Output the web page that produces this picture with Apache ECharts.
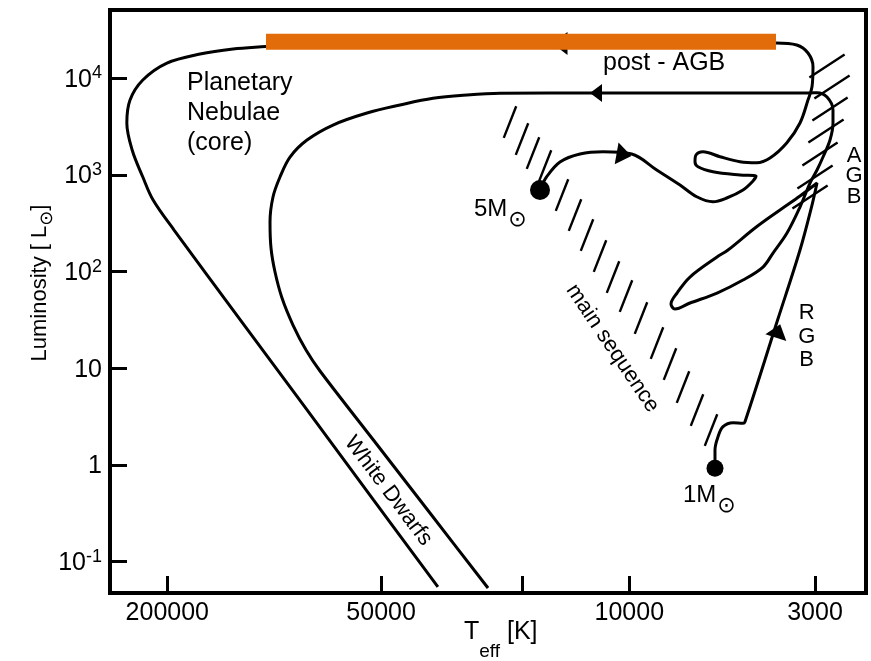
<!DOCTYPE html>
<html>
<head>
<meta charset="utf-8">
<script src="https://cdn.jsdelivr.net/npm/echarts@6/dist/echarts.min.js"></script>
<style>html,body{margin:0;padding:0;background:#fff}#chart{width:871px;height:661px}</style>
</head>
<body>
<div id="chart"></div>
<script>
// ---- axis ranges and ticks (Teff in K, L in solar units) ----
const teffMin = 2155, teffMax = 290000;
const lumMin = 0.0475, lumMax = 50900;
const xTickTeff = [200000, 50000, 20000, 10000, 3000];
const xTickLabels = ['200000', '50000', '', '10000', '3000'];
const yTickLum = [0.1, 1, 10, 100, 1000, 10000];
const yTickBase = ['10', '1', '10', '10', '10', '10'];
const yTickExp = ['-1', '', '', '2', '3', '4'];

// ---- evolutionary tracks: log10 Teff, log10 L ----
const track5LogT = [4.2515,4.2326,4.1952,4.1388,4.0741,3.9932,3.9228,3.8572,3.8102,3.7643,3.7257,3.6798,3.6516,3.6432,3.6883,3.7643,3.8065,3.8150,3.8122,3.7925,3.7446,3.6883,3.6412,3.6038,3.5568,3.5193,3.4968,3.4855,3.4827,3.4968,3.5286,3.587,4.195,4.927,5.023,5.116,5.209,5.302,5.370,5.406,5.415,5.400,5.370,5.341,5.282,5.095,4.907,4.720,4.539];
const track5LogL = [2.8448,2.9823,3.1344,3.2171,3.2409,3.2171,3.0516,2.8965,2.7755,2.7237,2.7620,2.8448,2.9378,2.9896,2.9999,3.0340,3.0858,3.1375,3.2068,3.2409,3.1892,3.1375,3.1271,3.1757,3.3309,3.5377,3.7756,3.9132,4.1201,4.2618,4.3445,4.365,4.365,4.355,4.329,4.303,4.251,4.158,3.983,3.776,3.538,3.259,2.979,2.741,2.431,1.500,0.569,-0.362,-1.261];

const track1LogT = [3.7587,3.7587,3.7502,3.7361,3.7080,3.6798,3.6742,3.5824,3.5193,3.4855,3.4714,3.5193,3.5756,3.6460,3.7221,3.7530,3.8291,3.8657,3.8826,3.8713,3.8291,3.7530,3.6798,3.6235,3.5953,3.5559,3.5193,3.4911,3.4714,3.4545,3.4348,3.4264,3.4264,3.4433,3.4714,3.4911,3.8009,4.0825,4.3641,4.4571,4.5528,4.6457,4.7387,4.8344,4.9076,4.9555,4.9837,5.0034,5.0118,5.0090,4.9977,4.9780,4.9471,4.9104,4.8710,4.7206,4.5570,4.3979];
const track1LogL = [-0.0337,0.1556,0.2931,0.3966,0.4379,0.4317,0.4483,1.5002,2.2242,2.6896,2.9172,2.7827,2.6379,2.4517,2.2242,2.1518,1.9449,1.7794,1.6657,1.6139,1.6760,1.7794,1.9139,2.0483,2.1932,2.4000,2.6689,2.9172,3.0516,3.1861,3.3619,3.5377,3.6722,3.8067,3.8511,3.8480,3.8480,3.8480,3.8449,3.8273,3.7932,3.7239,3.6412,3.5171,3.3619,3.1861,2.9792,2.7724,2.5138,2.2449,1.9966,1.7277,1.4485,1.1899,0.9727,0.2590,-0.5167,-1.2718];

// post-AGB band (highlighted)
const bandLogT = [5.0231, 3.5869];
const bandLogL = [4.3786, 4.3786];

// main-sequence hatch positions
const msHatchLogT = [4.3360,4.3022,4.2712,4.2374,4.1895,4.1529,4.1191,4.0825,4.0459,4.0093,3.9671,3.9220,3.8854,3.8488,3.8093,3.7699];
const msHatchLogL = [3.5481,3.3723,3.2275,3.0930,2.7930,2.5862,2.3793,2.1621,1.9449,1.7484,1.5209,1.2623,1.0452,0.8072,0.5693,0.3624];
// AGB hatch positions
const agbHatchLogT = [3.4433,3.4292,3.4348,3.4461,3.4630,3.4770,3.4911];
const agbHatchLogL = [4.1273,3.9101,3.6825,3.4550,3.2171,2.9792,2.7724];

// direction arrows: under band, post-AGB, 5 Msun track, RGB
const arrowLogT = [4.1952, 4.0938, 4.0149, 3.5812];
const arrowLogL = [4.3600, 3.8480, 3.2102, 1.3864];

// ZAMS starting points (5 Msun, 1 Msun)
const starLogT = [4.2515, 3.7587];
const starLogL = [2.8448, -0.0337];

// ---------------------------------------------------------------
const FONT = '"Liberation Sans", Arial, Helvetica, sans-serif';
const lg = Math.log10;
const pairs = (a, b) => a.map((v, i) => [v, b[i]]);
const xTicks = xTickTeff.map(lg);
const yTicks = yTickLum.map(lg);
function idx(ticks, v) {
  for (let i = 0; i < ticks.length; i++) if (Math.abs(ticks[i] - v) < 1e-6) return i;
  return -1;
}

const chart = echarts.init(document.getElementById('chart'), null, {renderer: 'canvas'});

const arrowCfg = [
  {rot: 90, size: [23, 15]},
  {rot: 90, size: [18, 12]},
  {rot: -100, size: [22, 15]},
  {rot: -18, size: [22, 14]}
];

function txt(x, y, text, extra, rot) {
  return {
    type: 'text', x: x, y: y, rotation: (rot || 0) * Math.PI / 180, z: 100, silent: true,
    style: Object.assign({
      text: text, fill: '#000', fontFamily: FONT, fontSize: 24,
      align: 'left', verticalAlign: 'middle'
    }, extra || {})
  };
}
const sunRich = {
  b: {fontSize: 24, lineHeight: 34, verticalAlign: 'top', fontFamily: FONT, fill: '#000'},
  sun: {fontSize: 22, lineHeight: 34, verticalAlign: 'bottom', fontFamily: '"DejaVu Sans"', fill: '#000', padding: [0, 0, 0, 1]}
};

const option = {
  animation: false,
  backgroundColor: '#ffffff',
  textStyle: {fontFamily: FONT},
  grid: {left: 110, right: 5, top: 10, bottom: 68, show: true, borderColor: '#000', borderWidth: 4, backgroundColor: 'transparent'},
  xAxis: {
    type: 'value', inverse: true, min: lg(teffMin), max: lg(teffMax),
    axisLine: {show: true, onZero: false, lineStyle: {color: '#000', width: 4}},
    axisTick: {show: true, inside: true, length: 17, customValues: xTicks, lineStyle: {color: '#000', width: 3}},
    axisLabel: {
      show: true, customValues: xTicks, color: '#000', fontSize: 25, margin: 8, fontFamily: FONT,
      formatter: v => { const i = idx(xTicks, v); return i < 0 ? '' : xTickLabels[i]; }
    },
    splitLine: {show: false}
  },
  yAxis: {
    type: 'value', min: lg(lumMin), max: lg(lumMax),
    axisLine: {show: true, onZero: false, lineStyle: {color: '#000', width: 4}},
    axisTick: {show: true, inside: true, length: 17, customValues: yTicks, lineStyle: {color: '#000', width: 3}},
    axisLabel: {
      show: true, customValues: yTicks, color: '#000', fontSize: 25, margin: 8, fontFamily: FONT,
      formatter: v => {
        const i = idx(yTicks, v); if (i < 0) return '';
        return '{b|' + yTickBase[i] + '}' + (yTickExp[i] ? '{sup|' + yTickExp[i] + '}' : '');
      },
      rich: {
        b: {fontSize: 25, lineHeight: 28, verticalAlign: 'bottom', color: '#000', fontFamily: FONT},
        sup: {fontSize: 18, lineHeight: 18, verticalAlign: 'top', color: '#000', fontFamily: FONT}
      }
    },
    splitLine: {show: false}
  },
  series: [
    {type: 'line', name: '5 Msun', data: pairs(track5LogT, track5LogL), smooth: 0.35, symbol: 'none', silent: true, z: 2,
     lineStyle: {color: '#000', width: 3}},
    {type: 'line', name: '1 Msun', data: pairs(track1LogT, track1LogL), smooth: 0.35, symbol: 'none', silent: true, z: 2,
     lineStyle: {color: '#000', width: 3}},
    {type: 'scatter', name: 'MS hatch', data: pairs(msHatchLogT, msHatchLogL), symbol: 'rect', symbolSize: [2.4, 34], symbolRotate: -21.5,
     itemStyle: {color: '#000', opacity: 1}, silent: true, z: 2},
    {type: 'scatter', name: 'AGB hatch', data: pairs(agbHatchLogT, agbHatchLogL), symbol: 'rect', symbolSize: [2.4, 42], symbolRotate: -57,
     itemStyle: {color: '#000', opacity: 1}, silent: true, z: 2},
    {type: 'scatter', name: 'arrow under band', data: [{value: [arrowLogT[0], arrowLogL[0]], symbolRotate: arrowCfg[0].rot, symbolSize: arrowCfg[0].size}],
     symbol: 'triangle', itemStyle: {color: '#000', opacity: 1}, silent: true, z: 3},
    {type: 'line', name: 'post-AGB band', data: pairs(bandLogT, bandLogL), symbol: 'none', silent: true, z: 4,
     lineStyle: {color: '#E36C0A', width: 16, cap: 'butt'}},
    {type: 'scatter', name: 'arrows', data: [1, 2, 3].map(i => ({value: [arrowLogT[i], arrowLogL[i]], symbolRotate: arrowCfg[i].rot, symbolSize: arrowCfg[i].size})),
     symbol: 'triangle', itemStyle: {color: '#000', opacity: 1}, silent: true, z: 5},
    {type: 'scatter', name: 'ZAMS', data: pairs(starLogT, starLogL).map((p, i) => ({value: p, symbolSize: i === 0 ? 20 : 17})),
     symbol: 'circle', itemStyle: {color: '#000', opacity: 1}, silent: true, z: 6}
  ],
  graphic: [
    txt(187, 68, 'Planetary\nNebulae\n(core)', {fontSize: 25, lineHeight: 30, verticalAlign: 'top'}),
    txt(603, 63.5, 'post - AGB', {fontSize: 25}),
    txt(854, 176, 'A\nG\nB', {fontSize: 22, lineHeight: 20.5, align: 'center'}),
    txt(806.7, 336.6, 'R\nG\nB', {fontSize: 22, lineHeight: 23.7, align: 'center'}),
    txt(612.5, 348.3, 'main sequence', {fontSize: 22, align: 'center'}, -56),
    txt(388.3, 490.8, 'White Dwarfs', {fontSize: 22, align: 'center'}, -53),
    txt(474, 197, '{b|5M}{sun|\u2299}', {rich: sunRich, verticalAlign: 'top'}),
    txt(683, 483, '{b|1M}{sun|\u2299}', {rich: sunRich, verticalAlign: 'top'}),
    txt(464, 619.5, '{t|T}{e|eff}{t| [K]}', {verticalAlign: 'top', rich: {
      t: {fontSize: 25, lineHeight: 42, verticalAlign: 'top', fontFamily: FONT, fill: '#000'},
      e: {fontSize: 19, lineHeight: 42, verticalAlign: 'bottom', fontFamily: FONT, fill: '#000'}
    }}),
    txt(42.5, 283, '{t|Luminosity [ L}{s|\u2299}{t|]}', {align: 'center', rich: {
      t: {fontSize: 22, lineHeight: 27, verticalAlign: 'top', fontFamily: FONT, fill: '#000'},
      s: {fontSize: 18, lineHeight: 27, verticalAlign: 'bottom', fontFamily: '"DejaVu Sans"', fill: '#000'}
    }}, 90)
  ]
};
chart.setOption(option);
</script>
</body>
</html>
